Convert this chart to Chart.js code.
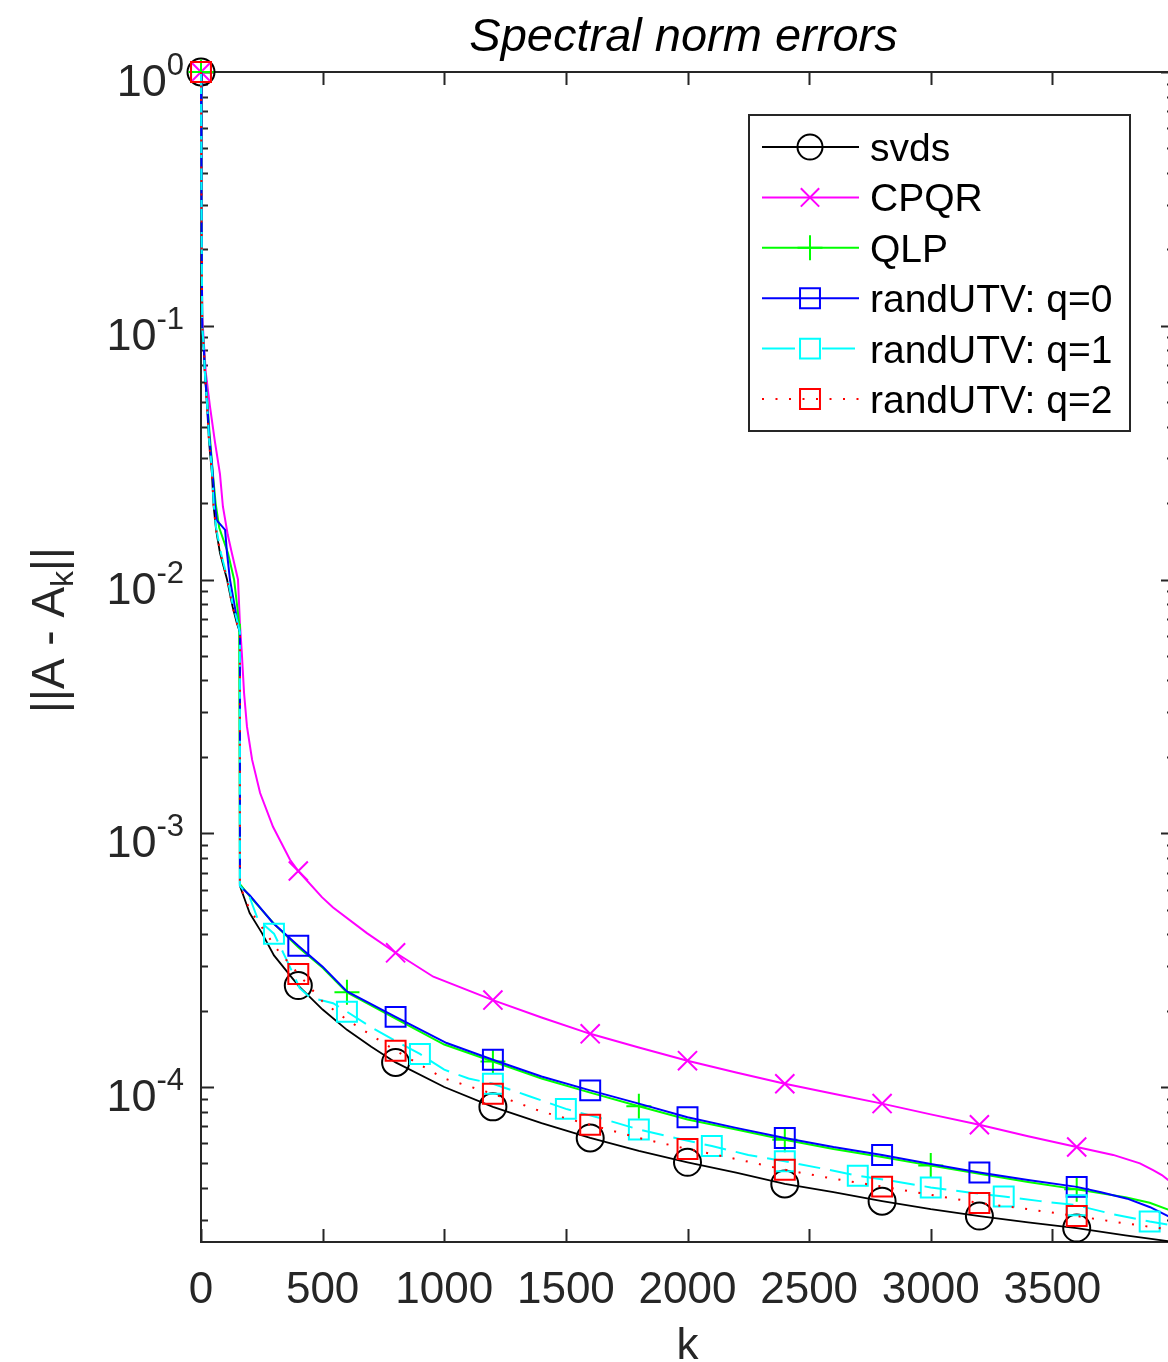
<!DOCTYPE html>
<html>
<head>
<meta charset="utf-8">
<title>Spectral norm errors</title>
<script src="https://cdn.jsdelivr.net/npm/chart.js@4.4.1/dist/chart.umd.min.js"></script>
<style>
html, body { margin: 0; padding: 0; background: #fff; overflow: hidden; }
#marco { width: 1168px; height: 1362px; overflow: hidden; }
canvas { display: block; }
</style>
</head>
<body>
<div id="marco"><canvas id="grafica" width="1200" height="1362"></canvas></div>
<script>
// ejes
const xTicks = [0, 500, 1000, 1500, 2000, 2500, 3000, 3500];
const yTickExps = [0, -1, -2, -3, -4];
const xMin = 0, xMax = 4000;
const yMin = 2.45e-5, yMax = 1;

// svds
const svdsK = [0, 2, 5, 12, 16, 25, 33, 45, 52, 62, 78, 107, 130, 148, 160, 160, 200, 250, 300, 400, 500, 600, 700, 800, 1000, 1200, 1400, 1600, 1800, 2000, 2200, 2400, 2600, 2800, 3000, 3200, 3400, 3600, 3800, 3990];
const svdsErr = [1, 0.3, 0.1, 0.08, 0.065, 0.048, 0.035, 0.026, 0.0194, 0.0157, 0.0127, 0.01, 0.0078, 0.0067, 0.0062, 6.2e-4, 4.85e-4, 4.05e-4, 3.3e-4, 2.51e-4, 2.02e-4, 1.68e-4, 1.44e-4, 1.25e-4, 1.0e-4, 8.35e-5, 7.2e-5, 6.3e-5, 5.6e-5, 5.05e-5, 4.6e-5, 4.15e-5, 3.85e-5, 3.55e-5, 3.3e-5, 3.1e-5, 2.93e-5, 2.78e-5, 2.6e-5, 2.46e-5];
const svdsMarcas = [0, 400, 800, 1200, 1600, 2000, 2400, 2800, 3200, 3600];

// CPQR
const cpqrK = [0, 2, 5, 12, 20, 37, 57, 78, 90, 110, 127, 152, 160, 168, 177, 189, 210, 243, 296, 366, 400, 497, 543, 682, 800, 955, 1200, 1400, 1600, 1800, 2000, 2200, 2400, 2600, 2800, 3000, 3200, 3400, 3600, 3750, 3860, 3914, 3950, 3990];
const cpqrErr = [1, 0.3, 0.11, 0.085, 0.065, 0.048, 0.035, 0.026, 0.0194, 0.015, 0.0127, 0.01, 0.0067, 0.0051, 0.00357, 0.00263, 0.00195, 0.00144, 0.00106, 7.86e-4, 7.1e-4, 5.6e-4, 5.1e-4, 4.04e-4, 3.38e-4, 2.72e-4, 2.2e-4, 1.88e-4, 1.62e-4, 1.43e-4, 1.27e-4, 1.14e-4, 1.03e-4, 9.4e-5, 8.6e-5, 7.8e-5, 7.1e-5, 6.4e-5, 5.8e-5, 5.4e-5, 5.0e-5, 4.7e-5, 4.5e-5, 4.2e-5];
const cpqrMarcas = [0, 400, 800, 1200, 1600, 2000, 2400, 2800, 3200, 3600];

// QLP
const qlpK = [0, 2, 5, 12, 16, 25, 35, 49, 60, 75, 111, 136, 157, 160, 160, 200, 300, 400, 500, 600, 800, 1000, 1200, 1400, 1600, 1800, 2000, 2200, 2400, 2600, 2800, 3000, 3200, 3400, 3600, 3800, 3900, 3990];
const qlpErr = [1, 0.3, 0.1, 0.082, 0.068, 0.052, 0.038, 0.026, 0.02, 0.016, 0.0127, 0.01, 0.0067, 0.0063, 6.3e-4, 5.65e-4, 4.4e-4, 3.55e-4, 2.95e-4, 2.36e-4, 1.86e-4, 1.47e-4, 1.26e-4, 1.08e-4, 9.5e-5, 8.4e-5, 7.45e-5, 6.8e-5, 6.2e-5, 5.7e-5, 5.3e-5, 4.9e-5, 4.55e-5, 4.22e-5, 3.95e-5, 3.68e-5, 3.5e-5, 3.25e-5];
const qlpMarcas = [0, 600, 1200, 1800, 2400, 3000, 3600];

// randUTV q=0
const q0K = [0, 2, 5, 12, 16, 25, 35, 47, 58, 65, 99, 107, 119, 150, 160, 160, 200, 296, 400, 500, 600, 800, 1010, 1200, 1400, 1600, 1800, 2000, 2200, 2400, 2600, 2800, 3000, 3200, 3400, 3600, 3700, 3808, 3902, 3990];
const q0Err = [1, 0.3, 0.1, 0.08, 0.066, 0.05, 0.036, 0.027, 0.0194, 0.0171, 0.0157, 0.0127, 0.01, 0.0068, 0.0062, 6.2e-4, 5.7e-4, 4.43e-4, 3.6e-4, 2.98e-4, 2.38e-4, 1.89e-4, 1.49e-4, 1.28e-4, 1.1e-4, 9.7e-5, 8.6e-5, 7.6e-5, 6.9e-5, 6.3e-5, 5.8e-5, 5.4e-5, 4.97e-5, 4.6e-5, 4.3e-5, 4.04e-5, 3.85e-5, 3.63e-5, 3.36e-5, 3.05e-5];
const q0Marcas = [0, 400, 800, 1200, 1600, 2000, 2400, 2800, 3200, 3600];

// randUTV q=1
const q1K = [0, 2, 5, 12, 16, 25, 33, 45, 52, 62, 82, 110, 130, 150, 160, 160, 200, 234, 300, 350, 406, 450, 543, 600, 700, 800, 900, 1000, 1100, 1200, 1350, 1500, 1650, 1800, 1950, 2100, 2250, 2400, 2550, 2700, 2850, 3000, 3150, 3300, 3450, 3600, 3750, 3900, 3990];
const q1Err = [1, 0.3, 0.1, 0.08, 0.065, 0.049, 0.036, 0.027, 0.02, 0.016, 0.0127, 0.01, 0.008, 0.0068, 0.0062, 6.2e-4, 5.6e-4, 4.57e-4, 4.02e-4, 3.2e-4, 2.45e-4, 2.25e-4, 2.14e-4, 1.98e-4, 1.72e-4, 1.52e-4, 1.35e-4, 1.17e-4, 1.08e-4, 1.03e-4, 9.2e-5, 8.2e-5, 7.5e-5, 6.8e-5, 6.3e-5, 5.85e-5, 5.4e-5, 5.1e-5, 4.78e-5, 4.47e-5, 4.25e-5, 4.02e-5, 3.85e-5, 3.7e-5, 3.55e-5, 3.42e-5, 3.15e-5, 2.95e-5, 2.85e-5];
const q1Marcas = [0, 300, 600, 900, 1200, 1500, 1800, 2100, 2400, 2700, 3000, 3300, 3600, 3900];

// randUTV q=2
const q2K = [0, 2, 5, 12, 16, 25, 33, 45, 52, 62, 80, 107, 130, 148, 160, 160, 200, 315, 400, 500, 600, 700, 800, 1000, 1200, 1400, 1600, 1800, 2000, 2200, 2400, 2600, 2800, 3000, 3200, 3400, 3600, 3800, 3990];
const q2Err = [1, 0.3, 0.1, 0.08, 0.065, 0.048, 0.035, 0.026, 0.0194, 0.0157, 0.0127, 0.01, 0.0078, 0.0067, 0.0062, 6.2e-4, 5.0e-4, 3.47e-4, 2.79e-4, 2.17e-4, 1.84e-4, 1.6e-4, 1.39e-4, 1.08e-4, 9.4e-5, 8.0e-5, 7.1e-5, 6.3e-5, 5.7e-5, 5.2e-5, 4.72e-5, 4.35e-5, 4.05e-5, 3.76e-5, 3.49e-5, 3.3e-5, 3.1e-5, 2.9e-5, 2.74e-5];
const q2Marcas = [0, 400, 800, 1200, 1600, 2000, 2400, 2800, 3200, 3600];

const fuente = '"Liberation Sans", Arial, Helvetica, sans-serif';
const colorEje = '#262626';

function puntos(ks, vals) {
    return ks.map((k, i) => ({ x: k, y: vals[i] }));
}

function serie(nombre, ks, vals, marcas, color, estilo, radio, ancho, guion, orden) {
    return {
        label: nombre,
        data: puntos(ks, vals),
        borderColor: color,
        borderWidth: ancho,
        borderDash: guion,
        pointStyle: estilo,
        pointBorderColor: color,
        pointBackgroundColor: 'rgba(0,0,0,0)',
        pointBorderWidth: 2,
        pointRadius: (ctx) => {
            const p = ctx.raw;
            if (!p) return 0;
            // solo una marca por k (hay k repetidos en el salto)
            if (marcas.includes(p.x) && ks.indexOf(p.x) === ctx.dataIndex) return radio;
            return 0;
        },
        pointHoverRadius: 0,
        tension: 0,
        clip: false,
        order: orden
    };
}

const datasets = [
    serie('svds', svdsK, svdsErr, svdsMarcas, '#000000', 'circle', 13.5, 1.8, [], 6),
    serie('CPQR', cpqrK, cpqrErr, cpqrMarcas, '#ff00ff', 'crossRot', 13.5, 2, [], 5),
    serie('QLP', qlpK, qlpErr, qlpMarcas, '#00ff00', 'cross', 12.5, 2, [], 4),
    serie('randUTV: q=0', q0K, q0Err, q0Marcas, '#0000ff', 'rect', 14.1, 2, [], 3),
    serie('randUTV: q=1', q1K, q1Err, q1Marcas, '#00ffff', 'rect', 14.1, 2, [22, 10], 2),
    serie('randUTV: q=2', q2K, q2Err, q2Marcas, '#ff0000', 'rect', 14.1, 2, [2, 11.5], 1)
];

function marcador(ctx, estilo, x, y, r) {
    ctx.beginPath();
    if (estilo === 'circle') {
        ctx.arc(x, y, r, 0, Math.PI * 2);
    } else if (estilo === 'rect') {
        const s = r * Math.SQRT1_2;
        ctx.rect(x - s, y - s, 2 * s, 2 * s);
    } else if (estilo === 'cross') {
        ctx.moveTo(x - r, y); ctx.lineTo(x + r, y);
        ctx.moveTo(x, y - r); ctx.lineTo(x, y + r);
    } else if (estilo === 'crossRot') {
        const d = r * Math.SQRT1_2;
        ctx.moveTo(x - d, y - d); ctx.lineTo(x + d, y + d);
        ctx.moveTo(x - d, y + d); ctx.lineTo(x + d, y - d);
    }
    ctx.stroke();
}

// ejes estilo caja con marcas hacia dentro
const ejesCaja = {
    id: 'ejesCaja',
    beforeDatasetsDraw(chart) {
        const ctx = chart.ctx;
        const a = chart.chartArea;
        const xs = chart.scales.x, ys = chart.scales.y;
        ctx.save();
        ctx.strokeStyle = colorEje;
        ctx.lineWidth = 2;
        ctx.strokeRect(a.left, a.top, a.right - a.left, a.bottom - a.top);
        ctx.beginPath();
        xTicks.forEach(v => {
            const px = Math.round(xs.getPixelForValue(v)) + 0.5;
            ctx.moveTo(px, a.bottom); ctx.lineTo(px, a.bottom - 13);
            ctx.moveTo(px, a.top); ctx.lineTo(px, a.top + 13);
        });
        for (let e = -5; e <= 0; e++) {
            for (let m = 1; m <= 9; m++) {
                const v = m * Math.pow(10, e);
                if (v < yMin || v > yMax) continue;
                const py = Math.round(ys.getPixelForValue(v)) + 0.5;
                const largo = m === 1 ? 13 : 7;
                ctx.moveTo(a.left, py); ctx.lineTo(a.left + largo, py);
                ctx.moveTo(a.right, py); ctx.lineTo(a.right - largo, py);
            }
        }
        ctx.stroke();
        ctx.restore();
    },
    afterDraw(chart) {
        const ctx = chart.ctx;
        const a = chart.chartArea;
        const xs = chart.scales.x, ys = chart.scales.y;
        ctx.save();

        // titulo
        ctx.fillStyle = '#000';
        ctx.font = 'italic 47px ' + fuente;
        ctx.textAlign = 'center';
        ctx.textBaseline = 'alphabetic';
        ctx.fillText('Spectral norm errors', (a.left + a.right) / 2 - 4, 51);

        // etiquetas eje x
        ctx.fillStyle = colorEje;
        ctx.font = '44px ' + fuente;
        xTicks.forEach(v => {
            ctx.fillText(String(v), xs.getPixelForValue(v), 1303);
        });
        ctx.fillText('k', (a.left + a.right) / 2, 1359);

        // etiquetas eje y: 10 con exponente
        yTickExps.forEach(e => {
            const py = ys.getPixelForValue(Math.pow(10, e));
            const exp = String(e);
            ctx.font = '31px ' + fuente;
            const wExp = ctx.measureText(exp).width;
            ctx.font = '45px ' + fuente;
            const wBase = ctx.measureText('10').width;
            const derecha = 184;
            ctx.textAlign = 'left';
            ctx.fillText('10', derecha - wExp - wBase, py + 24);
            ctx.font = '31px ' + fuente;
            ctx.fillText(exp, derecha - wExp, py + 3);
        });

        // titulo eje y ||A - A_k||
        ctx.save();
        ctx.translate(64, 630);
        ctx.rotate(-Math.PI / 2);
        ctx.textAlign = 'left';
        ctx.font = '46px ' + fuente;
        const t1 = '||A - A', t3 = '||';
        const w1 = ctx.measureText(t1).width, w3 = ctx.measureText(t3).width;
        ctx.font = '32px ' + fuente;
        const w2 = ctx.measureText('k').width;
        let x0 = -(w1 + w2 + w3) / 2;
        ctx.font = '46px ' + fuente;
        ctx.fillText(t1, x0, 0);
        ctx.font = '32px ' + fuente;
        ctx.fillText('k', x0 + w1, 9);
        ctx.font = '46px ' + fuente;
        ctx.fillText(t3, x0 + w1 + w2, 0);
        ctx.restore();

        // leyenda
        const lx = 749, ly = 115, lw = 381, lh = 316;
        ctx.fillStyle = '#fff';
        ctx.fillRect(lx, ly, lw, lh);
        ctx.strokeStyle = colorEje;
        ctx.lineWidth = 2;
        ctx.strokeRect(lx, ly, lw, lh);
        const guionesLeyenda = [[], [], [], [], [33, 27], [2, 11.5]];
        chart.data.datasets.forEach((ds, i) => {
            const y = 147 + i * 50.4;
            ctx.strokeStyle = ds.borderColor;
            ctx.lineWidth = ds.borderWidth;
            ctx.setLineDash(guionesLeyenda[i]);
            ctx.beginPath();
            ctx.moveTo(762, y); ctx.lineTo(859, y);
            ctx.stroke();
            ctx.setLineDash([]);
            ctx.lineWidth = 2;
            const r = ds.pointStyle === 'circle' ? 12.5 : (ds.pointStyle === 'cross' ? 12.5 : (ds.pointStyle === 'rect' ? 14.1 : 13));
            marcador(ctx, ds.pointStyle, 810, y, r);
            ctx.fillStyle = '#000';
            ctx.font = '39px ' + fuente;
            ctx.textAlign = 'left';
            ctx.fillText(ds.label, 870, y + 14);
        });
        ctx.restore();
    }
};

window.onload = function () {
    const ctx = document.getElementById('grafica').getContext('2d');
    new Chart(ctx, {
        type: 'line',
        data: { datasets: datasets },
        options: {
            responsive: false,
            animation: false,
            devicePixelRatio: 1,
            layout: { padding: { left: 201, top: 72, right: 1200 - 1174, bottom: 1362 - 1242 } },
            plugins: { legend: { display: false }, tooltip: { enabled: false } },
            scales: {
                x: { type: 'linear', min: xMin, max: xMax, display: false },
                y: { type: 'logarithmic', min: yMin, max: yMax, display: false }
            }
        },
        plugins: [ejesCaja]
    });
};
</script>
</body>
</html>
